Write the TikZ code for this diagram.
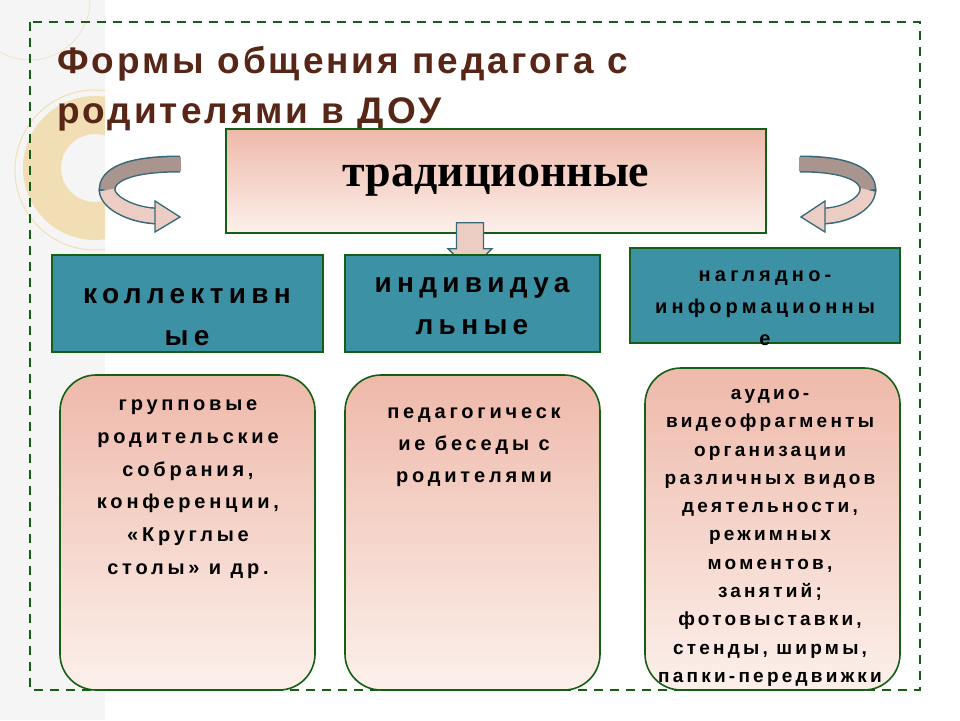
\documentclass[tikz,border=0pt]{standalone}
\usepackage{fontspec}
\setmainfont{Liberation Sans}
\newfontfamily\serifb{Liberation Serif}
\newfontfamily\spA[LetterSpace=8]{Liberation Sans}
\newfontfamily\spB[LetterSpace=19]{Liberation Sans}
\newfontfamily\spC[LetterSpace=17]{Liberation Sans}
\newfontfamily\spD[LetterSpace=21]{Liberation Sans}
\usetikzlibrary{shapes.arrows}
\definecolor{frame}{RGB}{20,95,20}
\definecolor{titlec}{RGB}{87,38,22}
\definecolor{teal}{RGB}{60,145,165}
\definecolor{pinktop}{RGB}{238,185,170}
\definecolor{pinkbot}{RGB}{252,240,235}
\definecolor{arrline}{RGB}{55,105,120}
\definecolor{arrtop}{RGB}{170,148,142}
\definecolor{arrbot}{RGB}{236,205,196}
\definecolor{beige}{RGB}{242,222,180}
\tikzset{
  x=1pt,y=-1pt,
  tealbox/.style={draw=frame,line width=2pt,fill=teal},
  roundbox/.style={draw=frame,line width=1.6pt,rounded corners=36pt,top color=pinktop,bottom color=pinkbot},
  hdr/.style={font=\spB\bfseries\fontsize{28}{42}\selectfont,align=center,inner sep=0pt},
  body/.style={font=\spB\bfseries\fontsize{20}{32.6}\selectfont,align=center,inner sep=0pt}
}
\begin{document}
\begin{tikzpicture}
\useasboundingbox (0,0) rectangle (960,720);
% left background strip
\fill[gray!8] (0,0) rectangle (105,720);
\begin{scope}
\clip (0,0) rectangle (105,720);
\draw[beige,line width=1pt] (95,170) circle (80);
\draw[beige,line width=0.6pt] (30,0) circle (60);
\fill[beige,even odd rule] (95,168) circle (72) (95,168) circle (34);
\end{scope}
% dashed frame
\draw[frame,line width=2.2pt,dash pattern=on 9pt off 7pt] (30,22) rectangle (920,690);
% title
\node[anchor=north west,align=left,inner sep=0pt,text=titlec,font=\spA\bfseries\fontsize{37}{50}\selectfont] (title) at (57,46) {Формы общения педагога с\\родителями в ДОУ};
% traditional box
\node[draw=frame,line width=2pt,top color=pinktop,bottom color=pinkbot,minimum width=540pt,minimum height=104pt,anchor=north west,font=\serifb\bfseries\fontsize{46}{48}\selectfont] (trad) at (225,128) {традиционные};
% down arrow
\node[single arrow,shape border rotate=270,draw=arrline,line width=1.3pt,fill=arrbot,minimum width=44pt,single arrow head extend=6pt,minimum height=48pt,anchor=north,inner sep=9pt] (down) at (470,222) {};
% curved arrows
\coordinate (la1) at (180,164); \coordinate (la2) at (107,190); \coordinate (la3) at (158,216);
\draw[arrline,line width=17pt] (la1) .. controls (125,164) and (107,176) .. (la2) .. controls (108,204) and (135,216) .. (la3);
\draw[arrtop,line width=14pt] (181,164) .. controls (125,164) and (107,176) .. (la2);
\draw[arrbot,line width=14pt] (la2) .. controls (108,204) and (135,216) .. (159,216);
\draw[arrline,line width=1.3pt,fill=arrbot] (155,201) -- (180,217) -- (155,232) -- cycle;
\coordinate (ra1) at (800,164); \coordinate (ra2) at (868,190); \coordinate (ra3) at (822,216);
\draw[arrline,line width=17pt] (ra1) .. controls (850,164) and (868,176) .. (ra2) .. controls (867,204) and (845,216) .. (ra3);
\draw[arrtop,line width=14pt] (799,164) .. controls (850,164) and (868,176) .. (ra2);
\draw[arrbot,line width=14pt] (ra2) .. controls (867,204) and (845,216) .. (821,216);
\draw[arrline,line width=1.3pt,fill=arrbot] (825,201) -- (801,217) -- (825,232) -- cycle;
% teal boxes
\draw[tealbox] (52,255) rectangle (323,352);
\draw[tealbox] (345,255) rectangle (600,352);
\draw[tealbox] (630,248) rectangle (900,343);
\node[hdr] (h1) at (187,317) {коллективн\\ые};
\node[hdr] (h2) at (472,306) {индивидуа\\льные};
\node[hdr,font=\spD\bfseries\fontsize{20}{32}\selectfont] (h3) at (765,308) {наглядно-\\информационны\\е};
% rounded boxes
\draw[roundbox] (60,375) rectangle (315,690);
\draw[roundbox] (345,375) rectangle (600,690);
\draw[roundbox] (645,368) rectangle (900,690);
\node[body,anchor=north] (b1) at (188,400) {групповые\\родительские\\собрания,\\конференции,\\«Круглые\\столы» и др.};
\node[body,anchor=north,font=\spB\bfseries\fontsize{20}{32}\selectfont] (b2) at (474,408) {педагогическ\\ие беседы с\\родителями};
\node[body,anchor=north,font=\spC\bfseries\fontsize{19}{28.3}\selectfont] (b3) at (770,389) {аудио-\\видеофрагменты\\организации\\различных видов\\деятельности,\\режимных\\моментов,\\занятий;\\фотовыставки,\\стенды, ширмы,\\папки-передвижки};
\end{tikzpicture}
\end{document}
